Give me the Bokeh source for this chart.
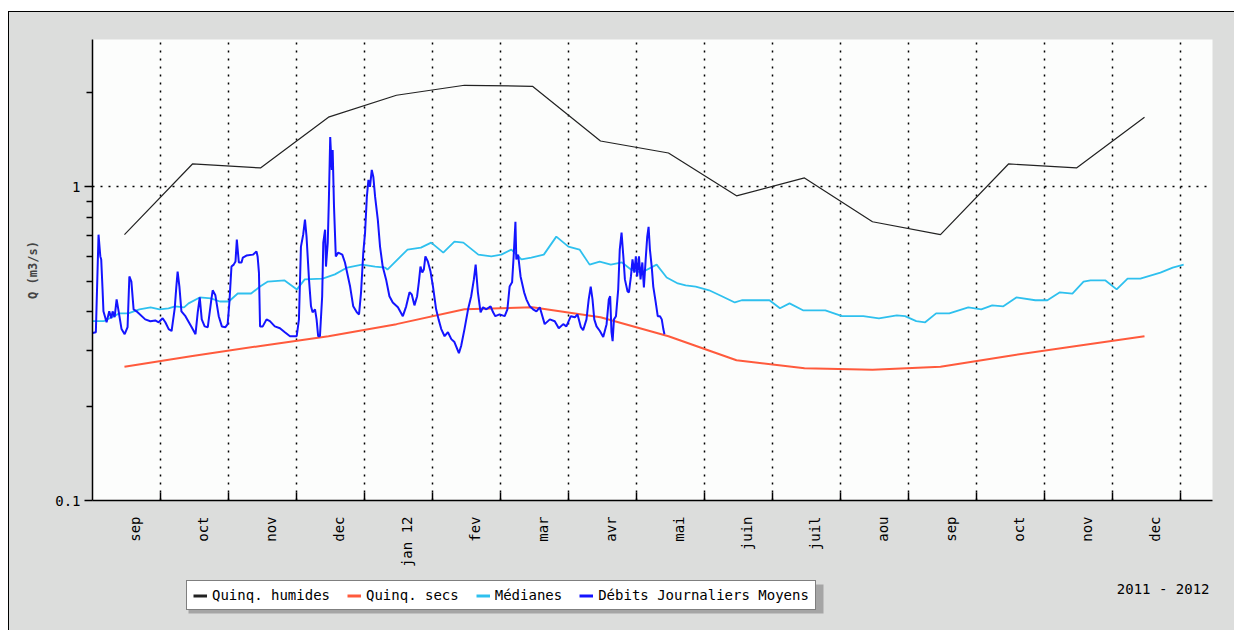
import numpy as np
from bokeh.plotting import figure
from bokeh.layouts import column
from bokeh.models import (FixedTicker, Legend, LegendItem, Label, BoxAnnotation, Range1d)
from bokeh.embed import file_html
from bokeh.resources import INLINE

MONTH_DAYS = 365.25 / 12.0

# ---- tick labels (one per month, Sep 2011 .. Dec 2012) ----
month_labels = ["sep", "oct", "nov", "dec", "jan 12", "fev", "mar", "avr",
                "mai", "juin", "juil", "aou", "sep", "oct", "nov", "dec"]

# ---- monthly statistics (index of month since Sep 2011, value at mid-month) ----
stat_month = list(range(16))
quinq_humides = [0.704, 1.183, 1.149, 1.668, 1.959, 2.108, 2.092, 1.400,
                 1.282, 0.936, 1.068, 0.774, 0.704, 1.183, 1.149, 1.668]
quinq_secs = [0.267, 0.289, 0.311, 0.334, 0.365, 0.407, 0.413, 0.384,
              0.334, 0.280, 0.264, 0.261, 0.267, 0.289, 0.311, 0.334]

# ---- medians (days since 2011-09-01, m3/s) ----
median_days = [0, 5, 12, 16, 21, 26, 30, 34, 37, 41,
               43, 48, 53, 57, 61, 65, 71, 75, 78.5, 86,
               91.5, 95, 103, 108.5, 114, 120.6, 126.5, 131, 132, 141,
               147, 151.6, 157, 162, 166, 172.7, 178.5, 183, 187.5, 192,
               196.4, 202, 207.6, 213, 218, 222.5, 227, 232, 237, 241,
               245.8, 252.5, 257, 262, 265.5, 270, 276, 281.7, 287.5, 290.6,
               303, 307.7, 312, 318, 328, 335.5, 345, 352, 360, 363.7,
               368.7, 372.7, 377.6, 383.5, 392, 397.8, 402.7, 407.7, 413.5, 422,
               427.4, 433, 438.6, 443.6, 446.7, 453.4, 458.4, 463.3, 469, 478,
               483.5, 488.4]
median_vals = [0.373, 0.373, 0.395, 0.395, 0.407, 0.413, 0.407, 0.410, 0.416, 0.413,
               0.425, 0.444, 0.441, 0.431, 0.431, 0.457, 0.457, 0.481, 0.499, 0.503,
               0.471, 0.507, 0.510, 0.526, 0.553, 0.565, 0.557, 0.553, 0.545, 0.631,
               0.640, 0.664, 0.617, 0.669, 0.664, 0.608, 0.600, 0.608, 0.631, 0.587,
               0.595, 0.608, 0.694, 0.645, 0.631, 0.565, 0.578, 0.565, 0.574, 0.545,
               0.533, 0.565, 0.514, 0.492, 0.485, 0.481, 0.468, 0.448, 0.428, 0.435,
               0.435, 0.410, 0.425, 0.404, 0.404, 0.387, 0.387, 0.381, 0.389, 0.387,
               0.373, 0.370, 0.395, 0.395, 0.413, 0.407, 0.419, 0.416, 0.444, 0.435,
               0.435, 0.461, 0.457, 0.499, 0.503, 0.503, 0.471, 0.510, 0.510, 0.533,
               0.553, 0.565]

# ---- daily mean flows (days since 2011-09-01, m3/s) ----
daily_days = [0.0, 1.5, 2.7, 3.5, 3.9, 4.5, 4.9, 6.3, 7.5, 8.4,
              9.0, 9.9, 10.8, 11.7, 13.0, 14.4, 15.7, 16.5, 17.4, 18.4,
              19.7, 23.6, 25.9, 28.1, 29.6, 31.4, 32.6, 34.1, 35.4, 36.8,
              37.5, 38.1, 38.9, 39.8, 41.6, 44.4, 46.1, 47.1, 48.0, 48.9,
              50.2, 51.6, 53.2, 53.8, 55.0, 56.5, 57.9, 59.5, 60.5, 61.3,
              62.2, 63.2, 64.0, 64.6, 65.5, 66.7, 67.3, 68.9, 71.8, 73.4,
              73.9, 74.5, 75.0, 76.2, 77.9, 79.4, 81.6, 83.9, 86.1, 88.4,
              91.4, 92.4, 93.3, 94.3, 95.1, 95.8, 96.9, 97.8, 98.5, 99.6,
              100.3, 101.0, 101.8, 102.8, 103.3, 104.1, 104.5, 105.3, 105.8, 106.4,
              107.1, 107.5, 108.1, 108.9, 110.0, 111.8, 113.0, 115.3, 116.7, 118.3,
              119.3, 120.2, 121.2, 122.0, 122.8, 123.5, 124.2, 125.0, 125.7, 126.5,
              127.7, 128.7, 129.9, 131.4, 132.9, 134.4, 136.7, 138.9, 140.4, 141.9,
              142.9, 144.1, 145.3, 146.1, 146.8, 147.6, 148.3, 149.0, 150.1, 151.3,
              152.4, 153.8, 154.9, 156.1, 157.6, 159.1, 160.6, 162.0, 164.0, 165.0,
              166.5, 168.1, 169.5, 170.7, 171.5, 172.5, 173.7, 174.8, 176.3, 178.2,
              179.3, 180.3, 182.2, 184.5, 185.7, 186.7, 187.8, 188.5, 189.3, 189.7,
              190.5, 191.6, 193.2, 194.2, 195.7, 197.2, 198.7, 200.2, 202.4, 204.7,
              206.9, 208.7, 210.7, 212.1, 214.1, 215.9, 217.1, 218.6, 219.6, 221.1,
              222.1, 223.0, 223.8, 224.6, 225.6, 227.1, 228.6, 230.1, 231.1, 231.7,
              232.3, 232.8, 233.4, 234.3, 235.3, 236.0, 236.8, 237.6, 238.3, 239.5,
              240.1, 241.0, 241.7, 242.5, 243.2, 243.8, 244.6, 245.3, 246.1, 246.8,
              247.6, 248.3, 248.9, 249.5, 250.3, 251.0, 252.1, 253.0, 254.0, 254.8,
              255.5, 256.0]
daily_vals = [0.342, 0.344, 0.704, 0.600, 0.587, 0.471, 0.401, 0.370, 0.401, 0.381,
              0.401, 0.384, 0.438, 0.401, 0.352, 0.339, 0.357, 0.518, 0.499, 0.407,
              0.401, 0.378, 0.373, 0.375, 0.370, 0.381, 0.370, 0.352, 0.347, 0.410,
              0.478, 0.537, 0.481, 0.401, 0.387, 0.357, 0.339, 0.398, 0.444, 0.378,
              0.359, 0.357, 0.438, 0.468, 0.451, 0.387, 0.359, 0.357, 0.365, 0.431,
              0.557, 0.565, 0.578, 0.679, 0.574, 0.574, 0.595, 0.604, 0.608, 0.622,
              0.600, 0.533, 0.359, 0.359, 0.378, 0.373, 0.359, 0.354, 0.344, 0.334,
              0.334, 0.378, 0.645, 0.704, 0.786, 0.694, 0.507, 0.416, 0.398, 0.407,
              0.378, 0.334, 0.334, 0.448, 0.664, 0.730, 0.557, 0.664, 0.909, 1.441,
              1.132, 1.311, 0.864, 0.600, 0.617, 0.608, 0.574, 0.481, 0.416, 0.398,
              0.392, 0.461, 0.617, 0.715, 0.929, 1.052, 1.000, 1.132, 1.076, 0.929,
              0.786, 0.645, 0.557, 0.507, 0.448, 0.428, 0.413, 0.387, 0.416, 0.461,
              0.454, 0.419, 0.448, 0.499, 0.557, 0.533, 0.545, 0.600, 0.578, 0.537,
              0.481, 0.407, 0.378, 0.352, 0.334, 0.344, 0.327, 0.320, 0.295, 0.311,
              0.352, 0.407, 0.448, 0.507, 0.565, 0.461, 0.398, 0.413, 0.407, 0.416,
              0.398, 0.387, 0.392, 0.387, 0.407, 0.481, 0.496, 0.600, 0.774, 0.587,
              0.608, 0.518, 0.461, 0.438, 0.416, 0.407, 0.401, 0.413, 0.365, 0.378,
              0.373, 0.354, 0.365, 0.359, 0.387, 0.384, 0.392, 0.357, 0.349, 0.378,
              0.438, 0.481, 0.438, 0.378, 0.359, 0.347, 0.332, 0.365, 0.438, 0.448,
              0.344, 0.322, 0.378, 0.387, 0.471, 0.631, 0.715, 0.600, 0.507, 0.464,
              0.461, 0.518, 0.587, 0.533, 0.600, 0.518, 0.600, 0.507, 0.574, 0.478,
              0.587, 0.694, 0.746, 0.631, 0.557, 0.481, 0.428, 0.387, 0.387, 0.378,
              0.352, 0.339]

legend_labels = ["Quinq. humides", "Quinq. secs", "Médianes", "Débits Journaliers Moyens"]
period_text = "2011 - 2012"

# ---- derived x positions (in months since 2011-09-01) ----
stat_x = [m + 0.47 for m in stat_month]
median_x = [d / MONTH_DAYS for d in median_days]
daily_x = [d / MONTH_DAYS for d in daily_days]

MONO = "DejaVu Sans Mono"
BG_OUT = "#dcdddc"
C_HUM, C_SEC, C_MED, C_DEB = "#222222", "#ff5a3c", "#2ec0ee", "#1414ff"

p = figure(width=1225, height=558, y_axis_type="log",
           x_range=Range1d(0, 16.47), y_range=Range1d(0.1, 2.95),
           output_backend="svg", toolbar_location=None,
           min_border_left=83, min_border_right=22, min_border_top=27,
           min_border_bottom=68,
           background_fill_color="#fcfdfc", border_fill_color=BG_OUT,
           outline_line_color=None)

# x axis: labels inside months, grid + inner ticks at month boundaries
label_pos = [k + 0.63 for k in range(len(month_labels))]
xa = p.xaxis[0]
xa.ticker = FixedTicker(ticks=label_pos, minor_ticks=list(range(1, 17)))
xa.major_label_overrides = {pos: lab for pos, lab in zip(label_pos, month_labels)}
xa.major_label_orientation = np.pi / 2
xa.major_tick_line_color = None
xa.minor_tick_in = 8
xa.minor_tick_out = 0
xa.minor_tick_line_color = "black"
xa.minor_tick_line_width = 1.5
xa.axis_line_width = 1.5
xa.axis_line_color = "black"
xa.major_label_standoff = 10
xa.major_label_text_font = MONO
xa.major_label_text_font_size = "14px"
xa.major_label_text_color = "black"

p.xgrid.grid_line_color = None
p.xgrid.minor_grid_line_color = "black"
p.xgrid.minor_grid_line_dash = "2 6"
p.xgrid.minor_grid_line_width = 1.5

ya = p.yaxis[0]
ya.ticker = FixedTicker(ticks=[0.1, 1.0],
                        minor_ticks=[0.2, 0.3, 0.4, 0.5, 0.6, 0.7, 0.8, 0.9, 2.0])
ya.major_label_overrides = {0.1: "0.1", 1.0: "1"}
ya.major_tick_out = 8
ya.major_tick_in = 0
ya.minor_tick_out = 6
ya.minor_tick_in = 0
ya.major_tick_line_width = 1.5
ya.minor_tick_line_width = 1.5
ya.major_tick_line_color = "black"
ya.minor_tick_line_color = "black"
ya.axis_line_width = 1.5
ya.axis_line_color = "black"
ya.major_label_standoff = 4
ya.major_label_text_font = MONO
ya.major_label_text_font_size = "14px"
ya.major_label_text_color = "black"
ya.axis_label = "Q (m3/s)"
ya.axis_label_text_font = MONO
ya.axis_label_text_font_style = "bold"
ya.axis_label_text_font_size = "12px"
ya.axis_label_standoff = 12

p.ygrid.grid_line_color = "black"
p.ygrid.grid_line_dash = "2 6"
p.ygrid.grid_line_width = 1.5

p.line(stat_x, quinq_humides, line_color=C_HUM, line_width=1.2)
p.line(stat_x, quinq_secs, line_color=C_SEC, line_width=2)
p.line(median_x, median_vals, line_color=C_MED, line_width=1.8)
p.line(daily_x, daily_vals, line_color=C_DEB, line_width=2)

# ---- bottom strip holding the legend and the period text ----
p2 = figure(width=1225, height=60, x_range=Range1d(0, 1), y_range=Range1d(0, 1),
            output_backend="svg", toolbar_location=None,
            x_axis_location=None, y_axis_location=None,
            min_border=0, min_border_left=83, min_border_right=22,
            min_border_top=0, min_border_bottom=0,
            background_fill_color=BG_OUT, border_fill_color=BG_OUT,
            outline_line_color=None)
p2.grid.visible = False

# legend-only proxy lines (drawn outside the strip's visible range)
proxies = [p2.line([-3, -2], [-3, -3], line_color=c, line_width=3)
           for c in (C_HUM, C_SEC, C_MED, C_DEB)]

shadow = BoxAnnotation(left=96, right=731, top=46, bottom=17,
                       left_units="screen", right_units="screen",
                       top_units="screen", bottom_units="screen",
                       fill_color="#a5a5a5", fill_alpha=1, line_color=None)
p2.add_layout(shadow)

legend = Legend(items=[LegendItem(label=lab, renderers=[r])
                       for lab, r in zip(legend_labels, proxies)],
                orientation="horizontal", location=(94, 20),
                border_line_color="black", border_line_width=1,
                background_fill_color="white", background_fill_alpha=1,
                label_text_font=MONO, label_text_font_size="14px",
                label_text_color="black",
                glyph_width=14, glyph_height=7, label_height=7,
                label_standoff=5, spacing=17, padding=6, margin=0)
p2.add_layout(legend, "center")

p2.add_layout(Label(x=1117, y=42, x_units="screen", y_units="screen",
                    text=period_text, text_align="right", text_baseline="middle",
                    text_font=MONO, text_font_size="14px", text_color="black"))

layout = column(p, p2, spacing=0)
layout.styles = {"margin-left": "8px", "margin-top": "11px",
                 "border-left": "1px solid black", "border-top": "1px solid black",
                 "background-color": BG_OUT}

open("out.html", "w").write(file_html(layout, INLINE))
